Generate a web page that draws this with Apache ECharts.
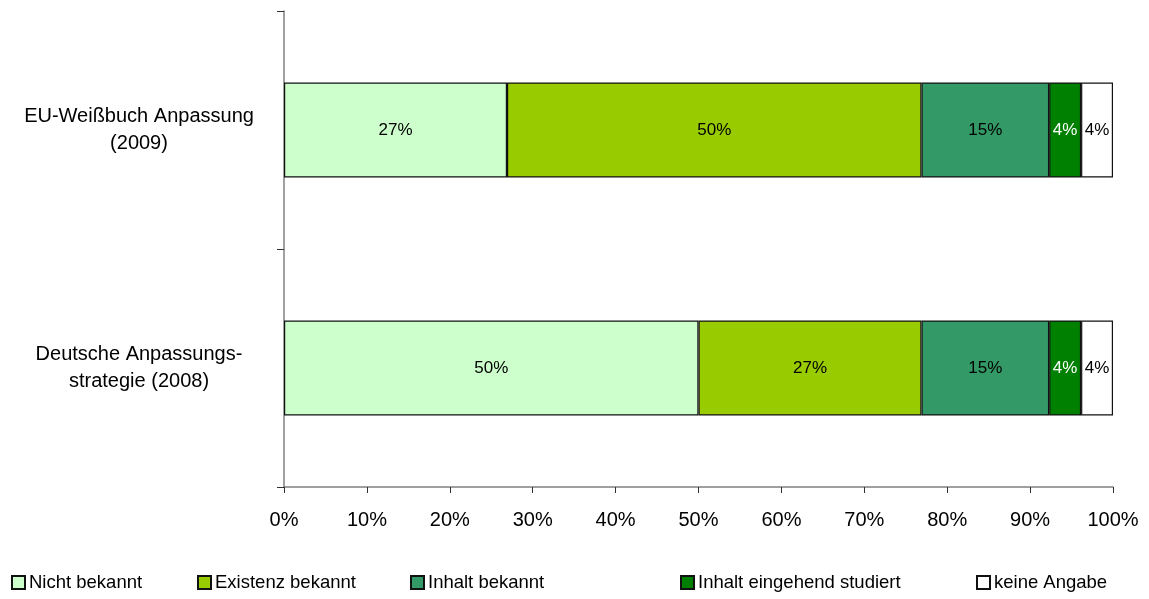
<!DOCTYPE html>
<html>
<head>
<meta charset="utf-8">
<script src="https://cdn.jsdelivr.net/npm/echarts@6/dist/echarts.min.js"></script>
<style>html,body{margin:0;padding:0;background:#fff}#c{width:1149px;height:599px}</style>
</head>
<body>
<div id="c"></div>
<script>
const categories = ['Deutsche Anpassungs-\nstrategie (2008)', 'EU-Weißbuch Anpassung\n(2009)'];
const seriesNames = ['Nicht bekannt', 'Existenz bekannt', 'Inhalt bekannt', 'Inhalt eingehend studiert', 'keine Angabe'];
const nichtBekannt = [50.0, 26.9];
const existenzBekannt = [26.9, 50.0];
const inhaltBekannt = [15.4, 15.4];
const inhaltStudiert = [3.85, 3.85];
const keineAngabe = [3.85, 3.85];
const xTicks = [0, 10, 20, 30, 40, 50, 60, 70, 80, 90, 100];

const values = [nichtBekannt, existenzBekannt, inhaltBekannt, inhaltStudiert, keineAngabe];
const colors = ['#CCFFCC', '#99CC00', '#339966', '#008000', '#FFFFFF'];
const labelColors = ['#000', '#000', '#000', '#fff', '#000'];
const legendLeft = [6, 192, 405, 675, 971];
const FONT = 'Liberation Sans, Arial, sans-serif';

const chart = echarts.init(document.getElementById('c'));
chart.setOption({
  animation: false,
  backgroundColor: '#fff',
  textStyle: { fontFamily: FONT },
  grid: { left: 284, right: 36, top: 11, bottom: 112, containLabel: false },
  xAxis: {
    type: 'value', min: 0, max: 100, interval: 10,
    axisLine: { show: true, lineStyle: { color: '#808080', width: 1.5 } },
    axisTick: { show: true, length: 6, lineStyle: { color: '#333' } },
    splitLine: { show: false },
    axisLabel: { color: '#000', fontSize: 20, fontFamily: FONT, margin: 23,
      formatter: v => xTicks.includes(v) ? v + '%' : '' }
  },
  yAxis: {
    type: 'category', data: categories,
    axisLine: { show: true, lineStyle: { color: '#808080', width: 1.5 } },
    axisTick: { show: true, length: 7, lineStyle: { color: '#333' } },
    axisLabel: { color: '#000', fontSize: 20, fontFamily: FONT, align: 'center', margin: 145, lineHeight: 27 }
  },
  legend: seriesNames.map((n, i) => ({
    data: [n], left: legendLeft[i], top: 568, itemWidth: 13, itemHeight: 13, itemGap: 0,
    icon: 'rect',
    textStyle: { color: '#000', fontSize: 18.5, fontFamily: FONT, padding: [0, 0, 0, -1] }
  })),
  series: seriesNames.map((n, i) => ({
    name: n, type: 'bar', stack: 'total', data: values[i], barWidth: 95,
    itemStyle: { color: colors[i], borderColor: '#111', borderWidth: 1.2 },
    label: { show: true, position: 'inside', color: labelColors[i], fontSize: 17, fontFamily: FONT,
      formatter: p => Math.round(p.value) + '%' }
  }))
});
</script>
</body>
</html>
